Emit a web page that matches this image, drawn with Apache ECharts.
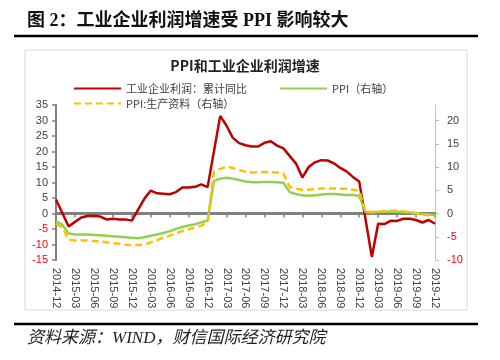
<!DOCTYPE html>
<html>
<head>
<meta charset="utf-8">
<script src="https://cdn.jsdelivr.net/npm/echarts@6/dist/echarts.min.js"></script>
<style>
html,body{margin:0;padding:0;background:#fff;}
#chart{width:500px;height:360px;}
</style>
</head>
<body>
<div id="chart"></div>
<script>
// Monthly categories 2014-12 .. 2019-12
const categories = [
  '2014-12',
  '2015-01','2015-02','2015-03','2015-04','2015-05','2015-06','2015-07','2015-08','2015-09','2015-10','2015-11','2015-12',
  '2016-01','2016-02','2016-03','2016-04','2016-05','2016-06','2016-07','2016-08','2016-09','2016-10','2016-11','2016-12',
  '2017-01','2017-02','2017-03','2017-04','2017-05','2017-06','2017-07','2017-08','2017-09','2017-10','2017-11','2017-12',
  '2018-01','2018-02','2018-03','2018-04','2018-05','2018-06','2018-07','2018-08','2018-09','2018-10','2018-11','2018-12',
  '2019-01','2019-02','2019-03','2019-04','2019-05','2019-06','2019-07','2019-08','2019-09','2019-10','2019-11','2019-12'
];

// 工业企业利润：累计同比 (left axis); January not published
const profitYoY = [
  4.5,
  null,-4.2,-2.7,-1.3,-0.8,-0.7,-1.0,-1.9,-1.7,-1.9,-1.9,-2.3,
  null,4.8,7.4,6.5,6.4,6.2,6.9,8.4,8.4,8.6,9.4,8.5,
  null,31.5,28.3,24.4,22.7,22.0,21.6,21.6,22.8,23.3,21.9,21.0,
  null,16.1,11.6,15.0,16.5,17.2,17.1,16.2,14.7,13.6,11.8,10.3,
  null,-14.0,-3.3,-3.4,-2.3,-2.4,-1.7,-1.7,-2.1,-2.9,-2.1,-3.3
];

// PPI（右轴）
const ppi = [
  -1.7,
  -2.4,-4.3,-4.5,-4.5,-4.5,-4.6,-4.7,-4.8,-4.9,-5.0,-5.1,-5.2,
  -5.3,-5.1,-4.8,-4.5,-4.2,-3.8,-3.3,-2.9,-2.6,-2.3,-1.9,-1.5,
  7.0,7.5,7.7,7.5,7.2,6.9,6.7,6.7,6.8,6.8,6.7,6.6,
  4.6,4.2,3.9,3.8,3.9,4.1,4.2,4.2,4.1,4.0,4.0,3.8,
  0.3,0.2,0.3,0.4,0.4,0.4,0.3,0.2,0.0,-0.1,-0.2,-0.3
];

// PPI:生产资料（右轴）
const ppiProducer = [
  -2.2,
  -3.0,-5.6,-5.8,-5.8,-5.8,-5.9,-6.0,-6.2,-6.4,-6.5,-6.7,-6.8,
  -6.8,-6.7,-6.2,-5.7,-5.2,-4.8,-4.2,-3.8,-3.4,-3.0,-2.6,-1.8,
  9.0,9.6,10.1,9.8,9.3,9.0,8.8,8.8,8.9,8.9,8.8,8.6,
  5.7,5.3,5.1,5.1,5.3,5.4,5.4,5.4,5.3,5.3,5.1,4.9,
  0.4,0.3,0.4,0.5,0.6,0.6,0.5,0.3,0.1,-0.2,-0.4,-0.7
];

const leftTicks = {min: -15, max: 35, interval: 5};
const rightTicks = {min: -10, max: 70 / 3, interval: 5};

const seriesNames = ['工业企业利润：累计同比', 'PPI（右轴）', 'PPI:生产资料（右轴）'];

const chart = echarts.init(document.getElementById('chart'), null, {renderer: 'canvas'});
const cjk = '"Noto Sans CJK SC", sans-serif';
const numFont = '"Liberation Sans", Arial, sans-serif';
const labelColor = function (v) { return Number(v) < 0 ? '#FF0000' : '#404040'; };

chart.setOption({
  animation: false,
  backgroundColor: '#fff',
  grid: {left: 56, right: 65, top: 105, bottom: 100, containLabel: false},
  legend: [
    {
      data: [seriesNames[0], seriesNames[1]],
      left: 68, top: 78, itemWidth: 47, itemHeight: 12, itemGap: 32,
      itemStyle: {opacity: 0},
      textStyle: {fontSize: 11, color: '#404040', fontFamily: cjk}
    },
    {
      data: [seriesNames[2]],
      left: 68, top: 93, itemWidth: 47, itemHeight: 12,
      itemStyle: {opacity: 0},
      textStyle: {fontSize: 11, color: '#404040', fontFamily: cjk}
    }
  ],
  xAxis: [
    {
      type: 'category', data: categories, boundaryGap: false, position: 'bottom',
      axisLine: {show: false, onZero: false},
      axisTick: {show: false},
      axisLabel: {interval: 2, rotate: -90, margin: 8, fontSize: 11, color: '#404040', fontFamily: numFont},
      splitLine: {show: false}
    },
    {
      type: 'category', data: categories, boundaryGap: false, position: 'bottom',
      axisLine: {show: true, onZero: true, onZeroAxisIndex: 0, lineStyle: {color: '#808080', width: 3}},
      axisTick: {show: true, interval: 2, length: 4, lineStyle: {color: '#808080', width: 1.5}},
      axisLabel: {show: false},
      splitLine: {show: false}
    }
  ],
  yAxis: [
    {
      type: 'value', position: 'left', min: leftTicks.min, max: leftTicks.max, interval: leftTicks.interval,
      axisLine: {show: true, lineStyle: {color: '#808080', width: 2}},
      axisTick: {show: true, length: 4, lineStyle: {color: '#808080', width: 1.5}},
      axisLabel: {margin: 8, fontSize: 11, fontFamily: numFont, color: labelColor},
      splitLine: {show: false}
    },
    {
      type: 'value', position: 'right', min: rightTicks.min, max: rightTicks.max, interval: rightTicks.interval,
      axisLine: {show: true, lineStyle: {color: '#BFBFBF', width: 1}},
      axisTick: {show: true, length: 4, lineStyle: {color: '#BFBFBF', width: 1}},
      axisLabel: {margin: 12, fontSize: 11, fontFamily: numFont, color: labelColor, showMaxLabel: false,
        formatter: function (v) { return Math.abs(v % 5) < 1e-6 ? String(v) : ''; }},
      splitLine: {show: false}
    }
  ],
  series: [
    {
      name: seriesNames[0], type: 'line', xAxisIndex: 0, yAxisIndex: 0, data: profitYoY,
      symbol: 'none', connectNulls: true, z: 3,
      lineStyle: {color: '#C00000', width: 2.5}, itemStyle: {color: '#C00000'}
    },
    {
      name: seriesNames[1], type: 'line', xAxisIndex: 0, yAxisIndex: 1, data: ppi,
      symbol: 'none', z: 4,
      lineStyle: {color: '#92D050', width: 2.5}, itemStyle: {color: '#92D050'}
    },
    {
      name: seriesNames[2], type: 'line', xAxisIndex: 0, yAxisIndex: 1, data: ppiProducer,
      symbol: 'none', z: 5,
      lineStyle: {color: '#FFC000', width: 2.5, type: [7, 4]}, itemStyle: {color: '#FFC000'}
    }
  ],
  graphic: [
    {type: 'text', left: 27, top: 12, style: {text: '图 2：工业企业利润增速受 PPI 影响较大',
      font: 'bold 18px "Liberation Serif", "Noto Sans CJK SC", serif', fill: '#111'}},
    {type: 'line', shape: {x1: 14, y1: 36, x2: 478, y2: 36}, style: {stroke: '#000', lineWidth: 2.5}},
    {type: 'rect', shape: {x: 25, y: 50, width: 442, height: 260}, style: {fill: 'none', stroke: '#D9D9D9', lineWidth: 1}, z: -1},
    {type: 'text', x: 245, y: 66, style: {text: 'PPI和工业企业利润增速', font: 'bold 14px "Noto Sans CJK SC", sans-serif',
      fill: '#222', textAlign: 'center', textVerticalAlign: 'middle'}},
    {type: 'line', shape: {x1: 14, y1: 324, x2: 478, y2: 324}, style: {stroke: '#000', lineWidth: 2.5}},
    {type: 'text', left: 27, top: 330, style: {text: '资料来源：WIND，财信国际经济研究院',
      font: 'italic 17px "Liberation Serif", "Noto Sans CJK SC", serif', fill: '#222'}}
  ]
});
</script>
</body>
</html>
